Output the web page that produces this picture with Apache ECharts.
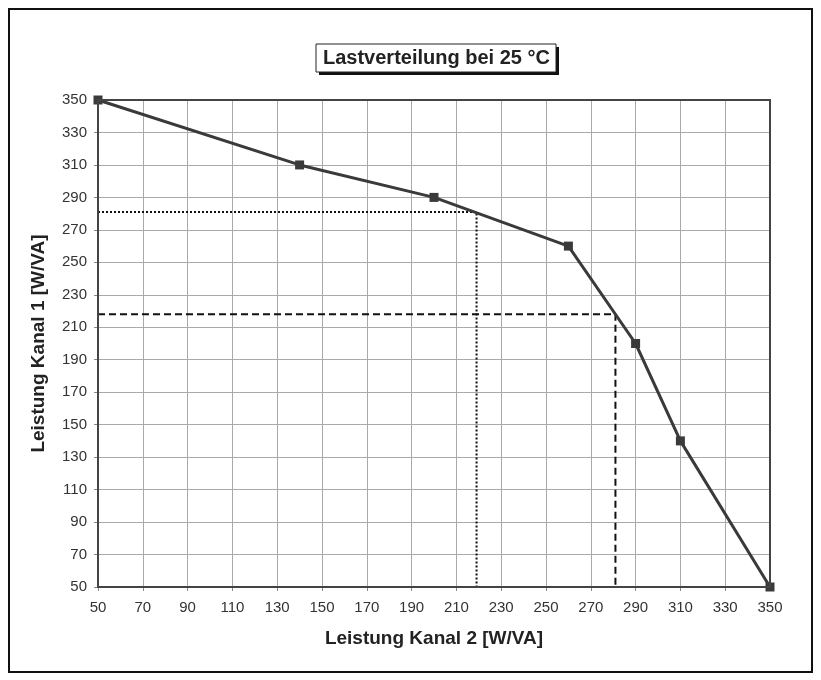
<!DOCTYPE html>
<html><head><meta charset="utf-8">
<script src="https://cdn.jsdelivr.net/npm/echarts@6/dist/echarts.min.js"></script>
<style>html,body{margin:0;padding:0;background:#fff}#c{width:821px;height:680px}</style>
</head><body><div id="c"></div>
<script>
const titleText = 'Lastverteilung bei 25 °C';
const xName = 'Leistung Kanal 2 [W/VA]';
const yName = 'Leistung Kanal 1 [W/VA]';
const kanal2 = [50, 140, 200, 260, 290, 310, 350];
const kanal1 = [350, 310, 290, 260, 200, 140, 50];
const dottedX = [50, 219, 219];
const dottedY = [281, 281, 50];
const dashedX = [50, 281, 281];
const dashedY = [218, 218, 50];
const axisMin = 50, axisMax = 350, axisStep = 20;

const zip = (a, b) => a.map((v, i) => [v, b[i]]);
const chart = echarts.init(document.getElementById('c'));
const axisCommon = {
  type: 'value', min: axisMin, max: axisMax, interval: axisStep,
  nameLocation: 'middle',
  nameTextStyle: {fontFamily: 'Liberation Sans', fontWeight: 'bold', fontSize: 19, color: '#222'},
  axisLine: {show: true, lineStyle: {color: '#222', width: 2}},
  axisTick: {show: true, length: 4, lineStyle: {color: '#888'}},
  axisLabel: {fontFamily: 'Liberation Sans', fontSize: 15, color: '#333', margin: 11},
  splitLine: {show: true, lineStyle: {color: '#aaa', width: 1}}
};
chart.setOption({
  animation: false,
  backgroundColor: '#fff',
  title: {
    text: titleText, left: 323, top: 48, padding: 0,
    textStyle: {fontFamily: 'Liberation Sans', fontWeight: 'bold', fontSize: 20, color: '#222'}
  },
  graphic: [
    {type: 'rect', shape: {x: 9, y: 9, width: 803, height: 663}, style: {fill: 'none', stroke: '#111', lineWidth: 2}, silent: true},
    {type: 'rect', shape: {x: 319, y: 47, width: 240, height: 28}, style: {fill: '#111'}, silent: true, z: -1},
    {type: 'rect', shape: {x: 316, y: 44, width: 240, height: 28}, style: {fill: '#fff', stroke: '#222', lineWidth: 1}, silent: true, z: -1},
    {type: 'rect', shape: {x: 98, y: 100, width: 672, height: 487}, style: {fill: 'none', stroke: '#444', lineWidth: 2}, silent: true, z: 10}
  ],
  grid: {left: 98, right: 51, top: 100, bottom: 93, containLabel: false},
  xAxis: Object.assign({}, axisCommon, {name: xName, nameGap: 42,
    axisLabel: Object.assign({}, axisCommon.axisLabel, {margin: 13})}),
  yAxis: Object.assign({}, axisCommon, {name: yName, nameGap: 50}),
  series: [
    {type: 'line', data: zip(dottedX, dottedY), symbol: 'none', z: 3,
     lineStyle: {color: '#111', width: 2, type: [2, 2]}},
    {type: 'line', data: zip(dashedX, dashedY), symbol: 'none', z: 3,
     lineStyle: {color: '#111', width: 2, type: [7, 4]}},
    {type: 'line', data: zip(kanal2, kanal1), symbol: 'rect', symbolSize: 9, z: 5,
     itemStyle: {color: '#3a3a3a'}, lineStyle: {color: '#3a3a3a', width: 3}}
  ]
});
</script></body></html>
